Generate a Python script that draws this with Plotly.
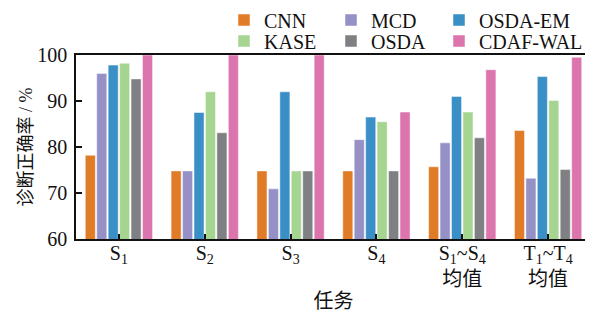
import plotly.graph_objects as go

categories = ["S<sub>1</sub>", "S<sub>2</sub>", "S<sub>3</sub>", "S<sub>4</sub>",
              "S<sub>1</sub>~S<sub>4</sub><br>均值", "T<sub>1</sub>~T<sub>4</sub><br>均值"]
cnn = [78.2, 74.8, 74.8, 74.8, 75.7, 83.6]
mcd = [96.0, 74.8, 70.9, 81.6, 80.9, 73.2]
osda_em = [97.8, 87.5, 92.0, 86.5, 91.0, 95.3]
kase = [98.2, 92.0, 74.8, 85.5, 87.6, 90.1]
osda = [94.8, 83.1, 74.8, 74.8, 82.0, 75.1]
cdaf_wal = [100.0, 100.0, 100.0, 87.6, 96.8, 99.5]

series = [
    ("CNN", cnn, "#E07B28"),
    ("MCD", mcd, "#9590C6"),
    ("OSDA-EM", osda_em, "#3A8FC6"),
    ("KASE", kase, "#A6D491"),
    ("OSDA", osda, "#7F8083"),
    ("CDAF-WAL", cdaf_wal, "#DC75AE"),
]

FONT = "Liberation Serif, Times New Roman, Noto Sans CJK SC, serif"
OFF = 8  # page body margin
W, H = 593 - OFF, 312 - OFF
ML, MR, MT, MB = 76 - OFF, 2, 55 - OFF, 73
PW, PH = W - ML - MR, H - MT - MB

# legend placement (window pixels): columns and rows
col_x = [224, 331, 439]
row_y = [20, 41]

fig = go.Figure()
legend_layouts = {}
for i, (name, vals, color) in enumerate(series):
    lname = "legend" if i == 0 else f"legend{i+1}"
    fig.add_trace(go.Bar(
        x=categories, y=vals, name=name,
        marker=dict(color=color, line=dict(color="rgba(255,255,255,0.6)", width=0.8)),
        legend=lname,
    ))
    r, c = divmod(i, 3)
    legend_layouts[lname] = dict(
        x=(col_x[c] - OFF - ML) / PW, y=(H - MB - (row_y[r] - OFF)) / PH,
        xanchor="left", yanchor="middle", bgcolor="rgba(0,0,0,0)",
        font=dict(family=FONT, size=20, color="#111"),
        itemwidth=30, tracegroupgap=0,
    )

fig.update_layout(
    width=W, height=H,
    margin=dict(l=ML, r=MR, t=MT, b=MB, autoexpand=False),
    paper_bgcolor="white", plot_bgcolor="white",
    barmode="group", bargap=0.2, bargroupgap=0.12,
    font=dict(family=FONT, size=20, color="#111"),
    showlegend=True,
    **legend_layouts,
)
fig.update_xaxes(
    type="category", range=[-0.5, 5.5],
    showline=True, linecolor="#111", linewidth=1.5, mirror=True,
    ticks="inside", ticklen=5, tickcolor="#111", tickwidth=1.5,
    showgrid=False, ticklabelstandoff=-5,
    tickfont=dict(family=FONT, size=20),
    title=dict(text="任务", font=dict(family=FONT, size=20), standoff=13),
)
fig.update_yaxes(
    range=[60, 100], tickvals=[60, 70, 80, 90, 100],
    showline=True, linecolor="#111", linewidth=1.5, mirror=True,
    ticks="inside", ticklen=6, tickcolor="#111", tickwidth=1.5,
    showgrid=False, zeroline=False, ticklabelstandoff=3,
    tickfont=dict(family=FONT, size=20),
    title=dict(text="诊断正确率 / %", font=dict(family=FONT, size=18), standoff=0),
)

fig.write_html("out.html")
